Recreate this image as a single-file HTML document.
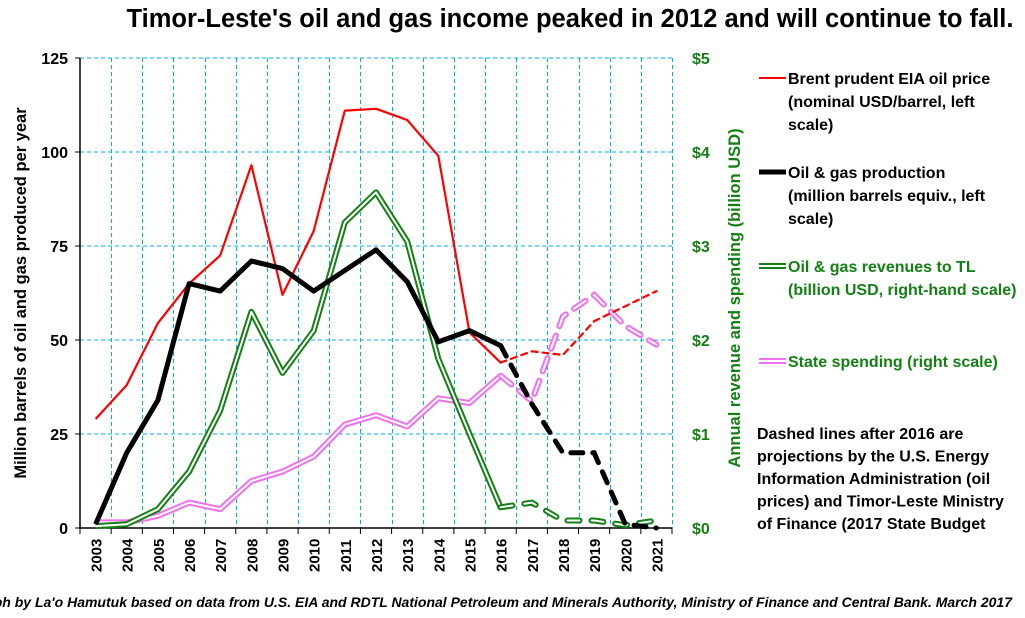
<!DOCTYPE html>
<html><head><meta charset="utf-8"><style>
body{margin:0;background:#fff;width:1025px;height:613px;overflow:hidden}
svg text{font-family:"Liberation Sans",sans-serif;font-weight:bold}
</style></head><body>
<svg id="c" width="1025" height="613">
<text x="570" y="27" text-anchor="middle" font-size="25.5">Timor-Leste's oil and gas income peaked in 2012 and will continue to fall.</text>
<g id="grid" shape-rendering="crispEdges"></g><g id="axes"></g><g id="series"></g>
<text transform="translate(26,293) rotate(-90)" text-anchor="middle" font-size="16.5">Million barrels of oil and gas produced per year</text>
<text transform="translate(740,298) rotate(-90)" text-anchor="middle" font-size="16.5" fill="#128012">Annual revenue and spending (billion USD)</text>
<g font-size="16">
<line x1="759" y1="78" x2="786" y2="78" stroke="#f00" stroke-width="2"/>
<text x="788" y="84"><tspan>Brent prudent EIA oil price</tspan><tspan x="788" dy="23">(nominal USD/barrel, left</tspan><tspan x="788" dy="23">scale)</tspan></text>
<line x1="759" y1="172" x2="786" y2="172" stroke="#000" stroke-width="5"/>
<text x="788" y="178"><tspan>Oil &amp; gas production</tspan><tspan x="788" dy="23">(million barrels equiv., left</tspan><tspan x="788" dy="23">scale)</tspan></text>
<line x1="759" y1="266" x2="786" y2="266" stroke="#128012" stroke-width="6"/>
<line x1="759" y1="266" x2="786" y2="266" stroke="#fff" stroke-width="2"/>
<text x="788" y="272" fill="#128012"><tspan>Oil &amp; gas revenues to TL</tspan><tspan x="788" dy="23">(billion USD, right-hand scale)</tspan></text>
<line x1="759" y1="361" x2="786" y2="361" stroke="#f070f0" stroke-width="6"/>
<line x1="759" y1="361" x2="786" y2="361" stroke="#fff" stroke-width="2"/>
<text x="788" y="367" fill="#128012">State spending (right scale)</text>
<text x="757" y="439" font-size="16"><tspan>Dashed lines after 2016 are</tspan><tspan x="757" dy="22.5">projections by the U.S. Energy</tspan><tspan x="757" dy="22.5">Information Administration (oil</tspan><tspan x="757" dy="22.5">prices) and Timor-Leste Ministry</tspan><tspan x="757" dy="22.5">of Finance (2017 State Budget</tspan></text>
</g>
<text x="1012" y="607" text-anchor="end" font-size="14" font-style="italic">Graph by La'o Hamutuk based on data from U.S. EIA and RDTL National Petroleum and Minerals Authority, Ministry of Finance and Central Bank.  March 2017</text>
</svg>
<script>
const years=[2003,2004,2005,2006,2007,2008,2009,2010,2011,2012,2013,2014,2015,2016,2017,2018,2019,2020,2021];
const leftTicks=[0,25,50,75,100,125];
const rightTicks=["$0","$1","$2","$3","$4","$5"];
const brent=[29,38,54.5,65,72.5,96.5,62,79,111,111.5,108.5,99,52,44,47,46,55,59,63];
const production=[1,20,34,65,63,71,69,63,68.5,74,65.5,49.5,52.5,48.5,33,20,20,1,0];
const revenue=[0.02,0.04,0.2,0.6,1.25,2.3,1.65,2.1,3.25,3.57,3.05,1.8,1.0,0.22,0.27,0.08,0.08,0.03,0.08];
const spending=[0.06,0.06,0.13,0.27,0.2,0.5,0.6,0.76,1.1,1.2,1.08,1.38,1.33,1.62,1.35,2.25,2.48,2.15,1.95];
const X0=80,X1=672,Y0=528,Y1=58,splitIdx=13;
const xs=i=>X0+(i+0.5)*(X1-X0)/years.length;
const yL=v=>Y0-(v/125)*(Y0-Y1);
const yR=v=>yL(v*25);
const NS="http://www.w3.org/2000/svg";
function mk(tag,attrs,parent){const e=document.createElementNS(NS,tag);for(const k in attrs)e.setAttribute(k,attrs[k]);parent.appendChild(e);return e;}
const grid=document.getElementById('grid'),axes=document.getElementById('axes'),ser=document.getElementById('series');
leftTicks.forEach((t,i)=>{
 const y=yL(t);
 if(i>0){const g=mk('line',{x1:X0,x2:X1,y1:y,y2:y,stroke:'#00b0f0','stroke-width':1,'stroke-dasharray':'4,3'},grid);
 
 }
 mk('line',{x1:X0-5,x2:X0,y1:y,y2:y,stroke:'#000'},axes);
 const tl=mk('text',{x:X0-12,y:y+6,'text-anchor':'end','font-size':16},axes);tl.textContent=t;
 
 
 const tr=mk('text',{x:692,y:y+6,'font-size':16,fill:'#128012'},axes);tr.textContent=rightTicks[i];
 
 
});
for(let i=1;i<=years.length;i++){
 const x=Math.round(X0+i*(X1-X0)/years.length)+0.5;
 const g=mk('line',{x1:x,x2:x,y1:Y1,y2:Y0,stroke:'#00b0f0','stroke-width':1,'stroke-dasharray':'4,3'},grid);
 
 
}
for(let i=0;i<=years.length;i++){const x=X0+i*(X1-X0)/years.length;mk('line',{x1:x,x2:x,y1:Y0,y2:Y0+6,stroke:'#000'},axes);}
mk('line',{x1:X0,x2:X0,y1:Y1,y2:Y0,stroke:'#000','stroke-width':1.5},axes);
mk('line',{x1:X0-1,x2:X1,y1:Y0,y2:Y0,stroke:'#000','stroke-width':1.5},axes);
years.forEach((yr,i)=>{
 const t=mk('text',{transform:`translate(${xs(i)+6},572) rotate(-90)`,'font-size':15},axes);t.textContent=yr;
 
 
});
function pts(arr,fy,a,b){return arr.slice(a,b+1).map((v,j)=>xs(a+j).toFixed(1)+','+fy(v).toFixed(1)).join(' ');}
function draw(name,arr,fy,color,w,inner,dash){
 const solid=pts(arr,fy,0,splitIdx),proj=pts(arr,fy,splitIdx,arr.length-1);
 const a=mk('polyline',{points:solid,fill:'none',stroke:color,'stroke-width':w,'stroke-linejoin':'round'},ser);
 
 
 if(inner)mk('polyline',{points:solid,fill:'none',stroke:'#fff','stroke-width':inner,'stroke-linejoin':'round'},ser);
 const b=mk('polyline',{points:proj,fill:'none',stroke:color,'stroke-width':w,'stroke-dasharray':dash,'stroke-linecap':'round'},ser);
 
 
 if(inner)mk('polyline',{points:proj,fill:'none',stroke:'#fff','stroke-width':inner,'stroke-dasharray':dash,'stroke-linecap':'round'},ser);
}
draw('spending',spending,yR,'#f070f0',6,2,'14,10');
draw('revenue',revenue,yR,'#128012',6,2,'12,12');
draw('brent',brent,yL,'#f00',2.2,0,'6,5');
draw('production',production,yL,'#000',5,0,'12,10');
</script>
</body></html>
